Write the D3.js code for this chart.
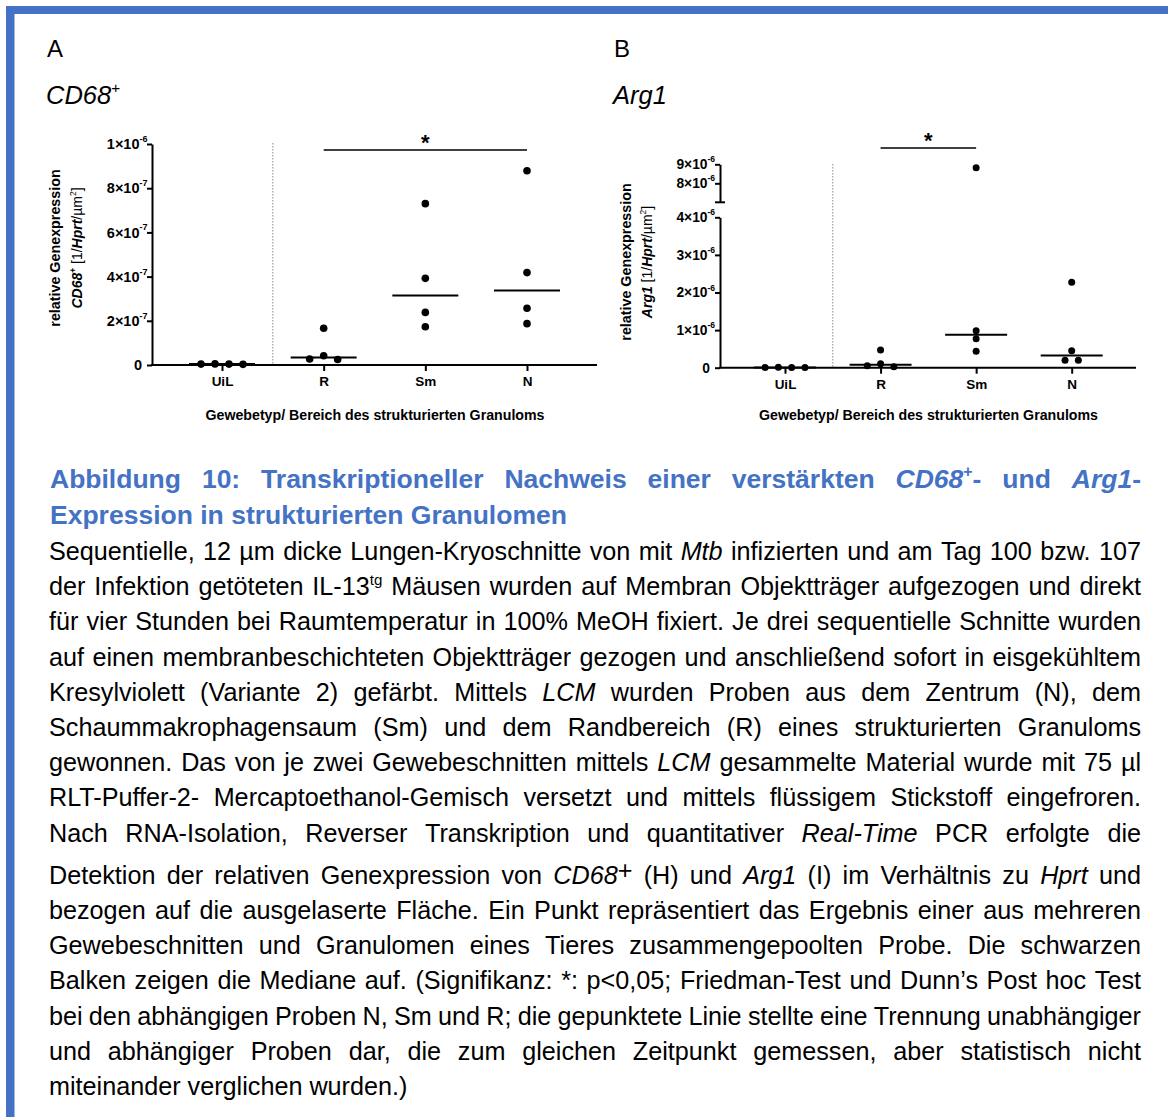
<!DOCTYPE html>
<html>
<head>
<meta charset="utf-8">
<script src="https://cdn.jsdelivr.net/npm/d3@7"></script>
<style>
  body { margin: 0; background: #fff; }
  svg { display: block; }
</style>
</head>
<body>
<div id="fig"></div>
<script>
// groups + values
const groups = ["UiL", "R", "Sm", "N"];

const cd68UiL = [4e-9, 5e-9, 3e-9, 4e-9];
const cd68R = [1.66e-7, 4.2e-8, 2.7e-8, 2.5e-8];
const cd68Sm = [7.3e-7, 3.92e-7, 2.38e-7, 1.73e-7];
const cd68N = [8.79e-7, 4.18e-7, 2.57e-7, 1.87e-7];

const arg1UiL = [1e-8, 8e-9, 5e-9, 7e-9];
const arg1R = [4.7e-7, 1.06e-7, 5e-8, 2.7e-8];
const arg1Sm = [8.82e-6, 9.8e-7, 7.7e-7, 4.4e-7];
const arg1N = [2.27e-6, 4.5e-7, 2.0e-7, 2.0e-7];

const cd68Ticks = [0, 2e-7, 4e-7, 6e-7, 8e-7, 1e-6];
const arg1TicksLow = [0, 1e-6, 2e-6, 3e-6, 4e-6];
const arg1TicksHigh = [8e-6, 9e-6];
const arg1HighDomain = [7e-6, 9e-6];

const cd68Sig = ["R", "N"];
const arg1Sig = ["R", "Sm"];

const xTitle = "Gewebetyp/ Bereich des strukturierten Granuloms";

const captionTitle = [
  "Abbildung 10: Transkriptioneller Nachweis einer verstärkten _CD68_^+^- und _Arg1_-",
  "Expression in strukturierten Granulomen"
];
const captionBody = [
  "Sequentielle, 12 µm dicke Lungen-Kryoschnitte von mit _Mtb_ infizierten und am Tag 100 bzw. 107",
  "der Infektion getöteten IL-13^tg^ Mäusen wurden auf Membran Objektträger aufgezogen und direkt",
  "für vier Stunden bei Raumtemperatur in 100% MeOH fixiert. Je drei sequentielle Schnitte wurden",
  "auf einen membranbeschichteten Objektträger gezogen und anschließend sofort in eisgekühltem",
  "Kresylviolett (Variante 2) gefärbt. Mittels _LCM_ wurden Proben aus dem Zentrum (N), dem",
  "Schaummakrophagensaum (Sm) und dem Randbereich (R) eines strukturierten Granuloms",
  "gewonnen. Das von je zwei Gewebeschnitten mittels _LCM_ gesammelte Material wurde mit 75 µl",
  "RLT-Puffer-2- Mercaptoethanol-Gemisch versetzt und mittels flüssigem Stickstoff eingefroren.",
  "Nach RNA-Isolation, Reverser Transkription und quantitativer _Real-Time_ PCR erfolgte die",
  "Detektion der relativen Genexpression von _CD68_#+# (H) und _Arg1_ (I) im Verhältnis zu _Hprt_ und",
  "bezogen auf die ausgelaserte Fläche. Ein Punkt repräsentiert das Ergebnis einer aus mehreren",
  "Gewebeschnitten und Granulomen eines Tieres zusammengepoolten Probe. Die schwarzen",
  "Balken zeigen die Mediane auf. (Signifikanz: *: p<0,05; Friedman-Test und Dunn’s Post hoc Test",
  "bei den abhängigen Proben N, Sm und R; die gepunktete Linie stellte eine Trennung unabhängiger",
  "und abhängiger Proben dar, die zum gleichen Zeitpunkt gemessen, aber statistisch nicht",
  "miteinander verglichen wurden.)"
];

const FONT = "'Liberation Sans', Arial, Helvetica, sans-serif";
const BLUE = "#4472c4";

let svg = d3.select("#fig").append("svg")
  .attr("width", 1168)
  .attr("height", 1117)
  .attr("font-family", FONT);

// frame (top + left bar)
svg.append("rect").attr("x", 6).attr("y", 6).attr("width", 1162).attr("height", 8).attr("fill", BLUE);
svg.append("rect").attr("x", 6).attr("y", 6).attr("width", 8.5).attr("height", 1111).attr("fill", BLUE);

// little markup: _italic_ ^sup^ #raised# ~weight toggle~
function parseRich(str) {
  let runs = [];
  let st = { it: false, bold: false, sup: false, raise: false };
  let buf = "";
  const flush = () => { if (buf) runs.push(Object.assign({ t: buf }, st)); buf = ""; };
  for (const ch of str) {
    if (ch === "_") { flush(); st = Object.assign({}, st, { it: !st.it }); }
    else if (ch === "^") { flush(); st = Object.assign({}, st, { sup: !st.sup }); }
    else if (ch === "#") { flush(); st = Object.assign({}, st, { raise: !st.raise }); }
    else if (ch === "~") { flush(); st = Object.assign({}, st, { bold: !st.bold }); }
    else buf += ch;
  }
  flush();
  return runs;
}

function writeRuns(text, runs, size, baseBold) {
  let cur = 0;
  runs.forEach(r => {
    let off = r.sup ? -size * 0.42 : (r.raise ? -size * 0.2 : 0);
    let bold = r.bold ? !baseBold : baseBold;
    text.append("tspan")
      .text(r.t)
      .attr("dy", off - cur)
      .attr("font-size", r.sup ? size * 0.6 : size)
      .attr("font-style", r.it ? "italic" : "normal")
      .attr("font-weight", bold ? "bold" : "normal");
    cur = off;
  });
}

function richLine(g, str, x0, x1, y, size, opts) {
  let runs = parseRich(str);
  let words = [[]];
  runs.forEach(r => {
    r.t.split(" ").forEach((part, i) => {
      if (i > 0) words.push([]);
      if (part) words[words.length - 1].push(Object.assign({}, r, { t: part }));
    });
  });
  words = words.filter(w => w.length);
  let nodes = words.map(w => {
    let t = g.append("text").attr("y", y).attr("fill", opts.color || "#000");
    writeRuns(t, w, size, opts.bold);
    return t;
  });
  let widths = nodes.map(n => n.node().getComputedTextLength());
  let gap = opts.justify ? (x1 - x0 - d3.sum(widths)) / (words.length - 1) : size * 0.278;
  let x = x0;
  nodes.forEach((n, i) => { n.attr("x", x); x += widths[i] + gap; });
}

function expLabel(v) {
  if (v === 0) return { base: "0", exp: null };
  let parts = d3.format(".0e")(v).replace("−", "-").split("e");
  return { base: parts[0] + "×10", exp: parts[1].replace("−", "-") };
}

function styleYAxis(axisG, size) {
  axisG.select(".domain").attr("stroke-width", 2);
  axisG.selectAll(".tick line").attr("stroke-width", 2);
  axisG.selectAll(".tick").each(function(d) {
    let lab = expLabel(d);
    let tick = d3.select(this);
    tick.select("text")
      .text(lab.base)
      .attr("x", lab.exp ? -12.5 : -10)
      .attr("font-size", size)
      .attr("font-weight", "bold")
      .attr("font-family", FONT);
    if (lab.exp) {
      tick.append("text")
        .text(lab.exp)
        .attr("x", -12.5)
        .attr("y", -2.5)
        .attr("text-anchor", "start")
        .attr("fill", "#000")
        .attr("font-size", size * 0.62)
        .attr("font-weight", "bold")
        .attr("font-family", FONT);
    }
  });
}

// points of one group spread sideways when they sit in the same row
function spread(vals, yf, spacing) {
  let pts = vals.map(v => ({ v: v, y: yf(v) })).sort((a, b) => a.y - b.y);
  let rows = [];
  pts.forEach(p => {
    let last = rows[rows.length - 1];
    if (last && p.y - last[0].y < 7) last.push(p);
    else rows.push([p]);
  });
  rows.forEach(row => {
    row.sort((a, b) => b.v - a.v);
    let slots = row.length % 2 ? [0, -1, 1, -2, 2] : [-0.5, 0.5, -1.5, 1.5, -2.5, 2.5];
    row.forEach((p, i) => { p.dx = slots[i] * spacing; });
  });
  return pts;
}

function drawPanel(cfg) {
  let g = svg.append("g");

  let yLow = d3.scaleLinear().domain([0, d3.max(cfg.ticksLow)]).range([cfg.y0, cfg.yTop]);
  let yHigh = cfg.ticksHigh ? d3.scaleLinear().domain(cfg.highDomain).range([cfg.highBottom, cfg.highTop]) : null;
  let yf = v => (yHigh && v >= cfg.highDomain[0]) ? yHigh(v) : yLow(v);

  let x = d3.scalePoint().domain(groups).range([cfg.xFirst, cfg.xLast]);

  // separator between independent / dependent samples
  g.append("line")
    .attr("x1", (x("UiL") + x("R")) / 2).attr("x2", (x("UiL") + x("R")) / 2)
    .attr("y1", cfg.sepTop).attr("y2", cfg.y0)
    .attr("stroke", "#8a8a8a").attr("stroke-width", 1).attr("stroke-dasharray", "1.5,1.5");

  // y axis
  let ya = g.append("g")
    .attr("transform", `translate(${cfg.axisX},0)`)
    .call(d3.axisLeft(yLow).tickValues(cfg.ticksLow).tickSize(5).tickSizeOuter(0));
  styleYAxis(ya, cfg.tickFont);

  if (yHigh) {
    let yb = g.append("g")
      .attr("transform", `translate(${cfg.axisX},0)`)
      .call(d3.axisLeft(yHigh).tickValues(cfg.ticksHigh).tickSize(5).tickSizeOuter(0));
    styleYAxis(yb, cfg.tickFont);
    g.append("line")
      .attr("x1", cfg.axisX - 5).attr("x2", cfg.axisX + 5)
      .attr("y1", yHigh(cfg.highDomain[0])).attr("y2", yHigh(cfg.highDomain[0]))
      .attr("stroke", "#000").attr("stroke-width", 2);
  }

  // x axis
  let xa = g.append("g")
    .attr("transform", `translate(0,${cfg.y0})`)
    .call(d3.axisBottom(x).tickSize(6).tickPadding(cfg.xPad).tickSizeOuter(0));
  xa.select(".domain").remove();
  xa.selectAll(".tick line").attr("stroke-width", 2);
  xa.selectAll(".tick text")
    .attr("font-size", 13.5).attr("font-weight", "bold").attr("font-family", FONT);
  g.append("line")
    .attr("x1", cfg.axisX - 1).attr("x2", cfg.xEnd)
    .attr("y1", cfg.y0).attr("y2", cfg.y0)
    .attr("stroke", "#000").attr("stroke-width", 2);

  // medians
  cfg.values.forEach((vals, i) => {
    let cx = x(groups[i]);
    let m = d3.median(vals);
    g.append("line")
      .attr("x1", cx - cfg.medianHalf).attr("x2", cx + cfg.medianHalf)
      .attr("y1", yf(m)).attr("y2", yf(m))
      .attr("stroke", "#000").attr("stroke-width", 2);
  });

  // dots
  cfg.values.forEach((vals, i) => {
    let cx = x(groups[i]);
    g.selectAll(null)
      .data(spread(vals, yf, cfg.spacing))
      .enter()
      .append("circle")
      .attr("cx", d => cx + d.dx)
      .attr("cy", d => d.y)
      .attr("r", cfg.r)
      .attr("fill", "#000");
  });

  // significance bar
  let sx1 = x(cfg.sig[0]), sx2 = x(cfg.sig[1]);
  g.append("line")
    .attr("x1", sx1).attr("x2", sx2)
    .attr("y1", cfg.sigY).attr("y2", cfg.sigY)
    .attr("stroke", "#000").attr("stroke-width", 1.5);
  g.append("text")
    .attr("x", (sx1 + sx2) / 2).attr("y", cfg.sigY - 0.5)
    .attr("text-anchor", "middle")
    .attr("font-size", 22).attr("font-weight", "bold")
    .text("*");

  // axis titles
  g.append("text")
    .attr("x", cfg.titleX).attr("y", 420)
    .attr("text-anchor", "middle")
    .attr("font-size", 14.2).attr("font-weight", "bold")
    .text(xTitle);

  let yl1 = g.append("text")
    .attr("transform", `translate(${cfg.labelX1},${cfg.labelY}) rotate(-90)`)
    .attr("text-anchor", "middle");
  writeRuns(yl1, parseRich("relative Genexpression"), 14.3, true);
  let yl2 = g.append("text")
    .attr("transform", `translate(${cfg.labelX2},${cfg.labelY}) rotate(-90)`)
    .attr("text-anchor", "middle");
  writeRuns(yl2, parseRich(cfg.label2), 14, false);

  // panel letter + gene
  g.append("text").attr("x", cfg.letterX).attr("y", 57).attr("font-size", 24).text(cfg.letter);
  let gt = g.append("text").attr("x", cfg.letterX - 1).attr("y", 104);
  writeRuns(gt, parseRich(cfg.gene), 25.5, false);
}

drawPanel({
  values: [cd68UiL, cd68R, cd68Sm, cd68N],
  ticksLow: cd68Ticks,
  sig: cd68Sig,
  axisX: 152, y0: 365, yTop: 144,
  xFirst: 222, xLast: 527, xEnd: 597,
  sepTop: 143, sigY: 150,
  r: 3.8, spacing: 14, medianHalf: 33, xPad: 5, tickFont: 14.5,
  titleX: 375, labelX1: 60, labelX2: 81.5, labelY: 248,
  label2: "~_CD68_^+^~ [1/~_Hprt_~/µm^2^]",
  letter: "A", letterX: 47, gene: "_CD68_^+^"
});

drawPanel({
  values: [arg1UiL, arg1R, arg1Sm, arg1N],
  ticksLow: arg1TicksLow, ticksHigh: arg1TicksHigh, highDomain: arg1HighDomain,
  highBottom: 202.3, highTop: 164.3,
  sig: arg1Sig,
  axisX: 720, y0: 367.7, yTop: 217.3,
  xFirst: 785, xLast: 1071.7, xEnd: 1136,
  sepTop: 164, sigY: 148,
  r: 3.5, spacing: 13.3, medianHalf: 31, xPad: 6, tickFont: 13.8,
  titleX: 928.5, labelX1: 631, labelX2: 652, labelY: 262,
  label2: "~_Arg1_~ [1/~_Hprt_~/µm^2^]",
  letter: "B", letterX: 614, gene: "_Arg1_"
});

// caption
let cap = svg.append("g");
richLine(cap, captionTitle[0], 50, 1141, 488, 26.5, { bold: true, justify: true, color: BLUE });
richLine(cap, captionTitle[1], 50, 1141, 524, 26.5, { bold: true, justify: false, color: BLUE });

captionBody.forEach((line, i) => {
  let y = 560 + i * 35.2 + (i >= 9 ? 7 : 0);
  richLine(cap, line, 49, 1141, y, 25.2, { bold: false, justify: i < captionBody.length - 1 });
});
</script>
</body>
</html>
